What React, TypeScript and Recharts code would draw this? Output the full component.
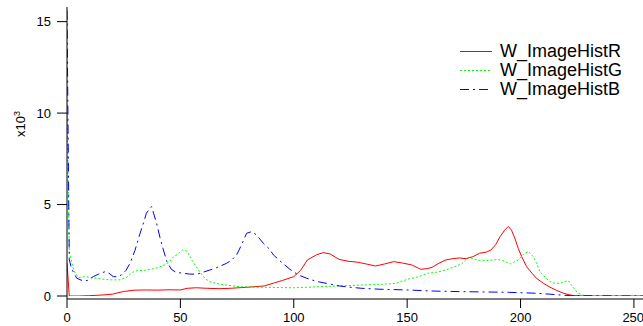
import React from "react";
import { LineChart, Line, XAxis, YAxis } from "recharts";

// histogram values, in thousands of pixels
const redX = [0, 1, 5, 10, 15, 20, 25, 30, 35, 40, 45, 50, 53, 57, 62, 67, 72, 77, 82, 87, 91, 95, 100, 103, 106, 110, 113, 116, 120, 124, 128, 132, 136, 140, 144, 148, 152, 156, 159, 161, 164, 167, 170, 173, 176, 179, 182, 185, 187, 189, 191, 193, 194.6, 196, 197.5, 199, 200.5, 202.7, 205, 207, 210, 213, 216, 219, 221, 223, 226, 230, 240, 254];
const redY = [1.8, 0, 0, 0.02, 0.05, 0.1, 0.25, 0.32, 0.33, 0.32, 0.34, 0.33, 0.42, 0.45, 0.42, 0.4, 0.42, 0.46, 0.5, 0.55, 0.7, 0.85, 1.06, 1.4, 1.97, 2.25, 2.37, 2.3, 2.0, 1.9, 1.85, 1.75, 1.64, 1.75, 1.88, 1.8, 1.7, 1.46, 1.5, 1.57, 1.79, 1.97, 2.04, 2.08, 2.04, 2.15, 2.34, 2.4, 2.52, 2.8, 3.25, 3.6, 3.8, 3.6, 3.16, 2.6, 2.15, 1.6, 1.25, 0.97, 0.7, 0.48, 0.3, 0.15, 0.08, 0.03, 0.01, 0, 0, 0];

const greenX = [0, 1, 3, 5, 8, 11, 14, 17, 20, 23, 26, 29, 31, 34, 37, 40, 43, 45, 47, 49, 51, 53, 55, 57, 59, 61, 63, 66, 70, 76, 85, 95, 100, 110, 120, 130, 140, 145, 150, 155, 159, 163, 167, 171, 174, 177, 180, 183, 186, 190, 193, 195.5, 199, 201.5, 203.5, 205.6, 207, 208.6, 211, 213, 215, 217.4, 219, 221, 223, 225, 227, 230, 240, 254];
const greenY = [10.5, 2.4, 1.4, 1.0, 1.06, 1.0, 0.95, 0.9, 0.88, 0.88, 1.0, 1.3, 1.39, 1.4, 1.46, 1.55, 1.7, 1.85, 2.15, 2.3, 2.52, 2.45, 1.97, 1.6, 1.24, 0.95, 0.78, 0.68, 0.6, 0.51, 0.48, 0.46, 0.45, 0.5, 0.55, 0.6, 0.65, 0.69, 0.91, 1.05, 1.24, 1.3, 1.42, 1.6, 1.75, 2.12, 2.0, 1.92, 1.95, 2.0, 1.9, 1.75, 1.97, 2.3, 2.43, 2.15, 1.8, 1.33, 1.0, 0.78, 0.7, 0.69, 0.75, 0.84, 0.51, 0.2, 0.05, 0, 0, 0];

const blueX = [0, 1, 2, 4.3, 7.2, 9, 11.6, 14, 16.8, 18.5, 20.4, 22, 24, 26, 27.8, 30, 32, 34, 35, 37.3, 39.5, 41, 42.5, 44, 46, 48, 51.3, 54, 57.2, 60, 63, 66, 70.4, 72.5, 74.8, 77, 79.2, 81.4, 83.5, 86.6, 89, 91, 95, 98.3, 102, 105.7, 110, 114.5, 120, 124.8, 130, 138, 150, 161.5, 173, 185, 195, 207, 213, 218, 222, 254];
const blueY = [15.6, 2.0, 1.5, 0.97, 0.82, 0.85, 1.06, 1.2, 1.33, 1.25, 1.06, 1.05, 1.15, 1.4, 1.79, 2.5, 3.34, 4.1, 4.53, 4.89, 3.98, 3.2, 2.52, 1.9, 1.46, 1.3, 1.24, 1.2, 1.19, 1.3, 1.42, 1.55, 1.79, 1.95, 2.25, 2.8, 3.43, 3.52, 3.35, 2.88, 2.6, 2.25, 1.8, 1.46, 1.15, 0.97, 0.8, 0.69, 0.55, 0.48, 0.42, 0.37, 0.33, 0.27, 0.24, 0.22, 0.2, 0.15, 0.1, 0.05, 0.02, 0];

const xTicks = [0, 50, 100, 150, 200, 250];
const yTicks = [0, 5, 10, 15];

const FONT = "'Liberation Sans', Arial, Helvetica, sans-serif";

const toPoints = (xs: number[], ys: number[]) => xs.map((x, i) => ({ x, v: ys[i] }));

const series = [
  { name: "W_ImageHistR", color: "#ff0000", dash: undefined as string | undefined, data: toPoints(redX, redY) },
  { name: "W_ImageHistG", color: "#00ff00", dash: "2 2", data: toPoints(greenX, greenY) },
  { name: "W_ImageHistB", color: "#0000ff", dash: "9 4 2 4", data: toPoints(blueX, blueY) },
];

// legend drawn as an overlay so it does not steal plot width
const LegendBox = () => (
  <div style={{ position: "absolute", left: 458, top: 42, fontFamily: FONT, fontSize: 18, color: "#000" }}>
    {series.map((s) => (
      <div key={s.name} style={{ display: "flex", alignItems: "center", height: 19 }}>
        <svg width={42} height={19} style={{ display: "block" }}>
          <line x1={2} x2={34} y1={9.5} y2={9.5} stroke={s.color} strokeWidth={1} strokeDasharray={s.dash} />
        </svg>
        <span style={{ lineHeight: "19px" }}>{s.name}</span>
      </div>
    ))}
  </div>
);

const YLabel = () => (
  <text transform="translate(25,124) rotate(-90)" textAnchor="middle" fontFamily={FONT} fontSize={13} fill="#000">
    x10<tspan dy={-5} fontSize={9}>3</tspan>
  </text>
);

export default function App() {
  return (
    <div style={{ position: "absolute", left: 0, top: 0, width: 643, height: 326, background: "#fff" }}>
      <LineChart width={643} height={326} margin={{ top: 7, right: 0, left: 0, bottom: 0 }}>
        <XAxis
          dataKey="x"
          type="number"
          domain={[0, 254]}
          ticks={xTicks}
          allowDataOverflow
          height={27}
          tickSize={9}
          tickMargin={5}
          stroke="#000"
          tick={{ fill: "#000", fontSize: 13, fontFamily: FONT }}
        />
        <YAxis
          type="number"
          domain={[0, 15.8]}
          ticks={yTicks}
          allowDataOverflow
          width={67}
          padding={{ top: 0, bottom: 3 }}
          tickSize={10}
          tickMargin={6}
          stroke="#000"
          tick={{ fill: "#000", fontSize: 13, fontFamily: FONT }}
          label={<YLabel />}
        />
        {series.map((s) => (
          <Line
            key={s.name}
            data={s.data}
            dataKey="v"
            name={s.name}
            type="linear"
            stroke={s.color}
            strokeWidth={1}
            strokeDasharray={s.dash}
            dot={false}
            activeDot={false}
            isAnimationActive={false}
          />
        ))}
      </LineChart>
      <LegendBox />
    </div>
  );
}
